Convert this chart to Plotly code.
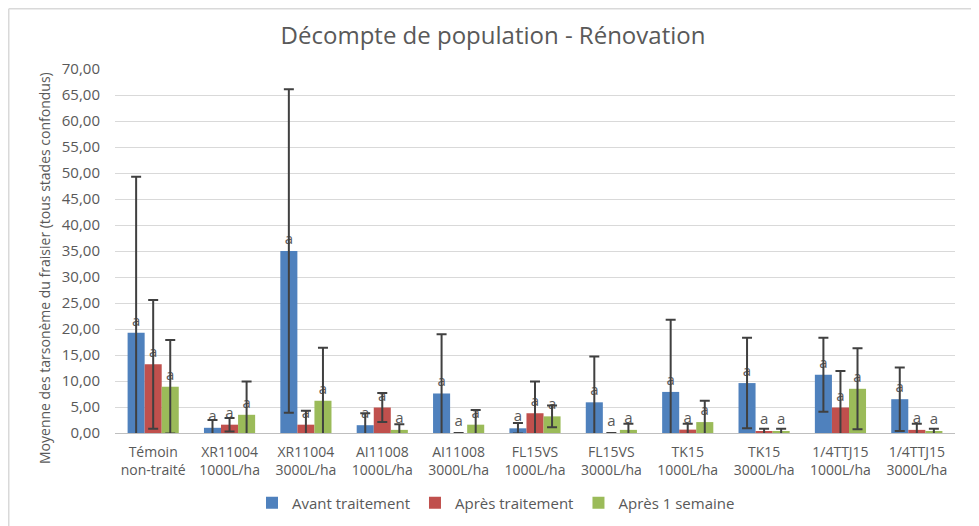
import plotly.graph_objects as go

categories = ["Témoin<br>non-traité", "XR11004<br>1000L/ha", "XR11004<br>3000L/ha",
              "AI11008<br>1000L/ha", "AI11008<br>3000L/ha", "FL15VS<br>1000L/ha",
              "FL15VS<br>3000L/ha", "TK15<br>1000L/ha", "TK15<br>3000L/ha",
              "1/4TTJ15<br>1000L/ha", "1/4TTJ15<br>3000L/ha"]

avant = [19.3, 1.0, 35.0, 1.5, 7.6, 0.9, 5.9, 7.9, 9.6, 11.2, 6.5]
avant_err = [30.0, 1.5, 31.1, 2.3, 11.4, 1.0, 8.8, 13.9, 8.7, 7.1, 6.1]
apres = [13.2, 1.6, 1.6, 4.9, 0.0, 3.8, 0.0, 0.65, 0.2, 4.9, 0.6]
apres_err = [12.4, 1.3, 2.7, 2.8, 0.0, 6.1, 0.0, 1.15, 0.6, 7.0, 1.2]
semaine = [8.9, 3.5, 6.2, 0.6, 1.6, 3.2, 0.6, 2.1, 0.2, 8.5, 0.2]
semaine_err = [9.0, 6.4, 10.2, 1.1, 2.8, 2.1, 1.2, 4.1, 0.6, 7.8, 0.6]

series = [
    ("Avant traitement", avant, avant_err, "#4f81bd"),
    ("Après traitement", apres, apres_err, "#c0504d"),
    ("Après 1 semaine", semaine, semaine_err, "#9bbb59"),
]

FONT = "'Open Sans', sans-serif"
GRAY = "#595959"

# the page body adds an 8px offset; work in figure coordinates
OFF = 8
W, H = 979 - OFF, 526 - OFF
L, R, T, B = 115 - OFF, 955 - OFF, 69 - OFF, 433 - OFF
PW, PH = R - L, B - T

fig = go.Figure()
for name, vals, errs, col in series:
    fig.add_trace(go.Bar(
        name=name, x=categories, y=vals, marker_color=col,
        marker_line_width=0,
        error_y=dict(type="data", array=errs, visible=True, color="#404040",
                     thickness=2, width=5),
        text=["a"] * len(vals), textposition="outside", constraintext="none",
        textfont=dict(size=15, color=GRAY, family=FONT),
        cliponaxis=False,
    ))

fig.update_layout(
    width=W, height=H,
    paper_bgcolor="white", plot_bgcolor="white",
    separators=", ",
    barmode="group", bargap=0.33, bargroupgap=0,
    margin=dict(l=L, r=W - R, t=T, b=H - B, autoexpand=False),
    title=dict(text="Décompte de population - Rénovation",
               x=(493 - OFF) / W, xanchor="center",
               y=1 - (36 - OFF) / H, yanchor="middle",
               font=dict(family=FONT, size=24, color=GRAY)),
    font=dict(family=FONT, color=GRAY, size=14),
    legend=dict(orientation="h", x=(496 - OFF - L) / PW, xanchor="center",
                y=-(503 - 433) / PH, yanchor="middle",
                font=dict(size=15, color=GRAY, family=FONT),
                traceorder="normal"),
    xaxis=dict(showline=True, linecolor="#bfbfbf", linewidth=1, ticks="",
               ticklabelstandoff=6,
               tickfont=dict(size=14, color=GRAY, family=FONT)),
    yaxis=dict(range=[0, 70], dtick=5, tickformat=".2f", showgrid=True,
               gridcolor="#d9d9d9", gridwidth=1, zeroline=False,
               ticks="", ticklabelstandoff=14,
               tickfont=dict(size=15, color=GRAY, family=FONT),
               automargin=False),
    annotations=[
        dict(text="Moyenne des tarsonème du fraisier (tous stades confondus)",
             xref="paper", yref="paper", x=(44 - OFF - L) / PW, y=(433 - 268) / PH,
             xanchor="center", yanchor="middle", textangle=-90, showarrow=False,
             font=dict(size=14, color=GRAY, family=FONT)),
    ],
    shapes=[
        dict(type="line", xref="paper", yref="paper",
             x0=(0.75 - L) / PW, x1=(0.75 - L) / PW, y0=-1, y1=(B - 0.75) / PH,
             line=dict(color="#d9d9d9", width=1.5)),
        dict(type="line", xref="paper", yref="paper",
             x0=(0.75 - L) / PW, x1=1.2, y0=(B - 0.75) / PH, y1=(B - 0.75) / PH,
             line=dict(color="#d9d9d9", width=1.5)),
    ],
)

fig.write_html("out.html")
